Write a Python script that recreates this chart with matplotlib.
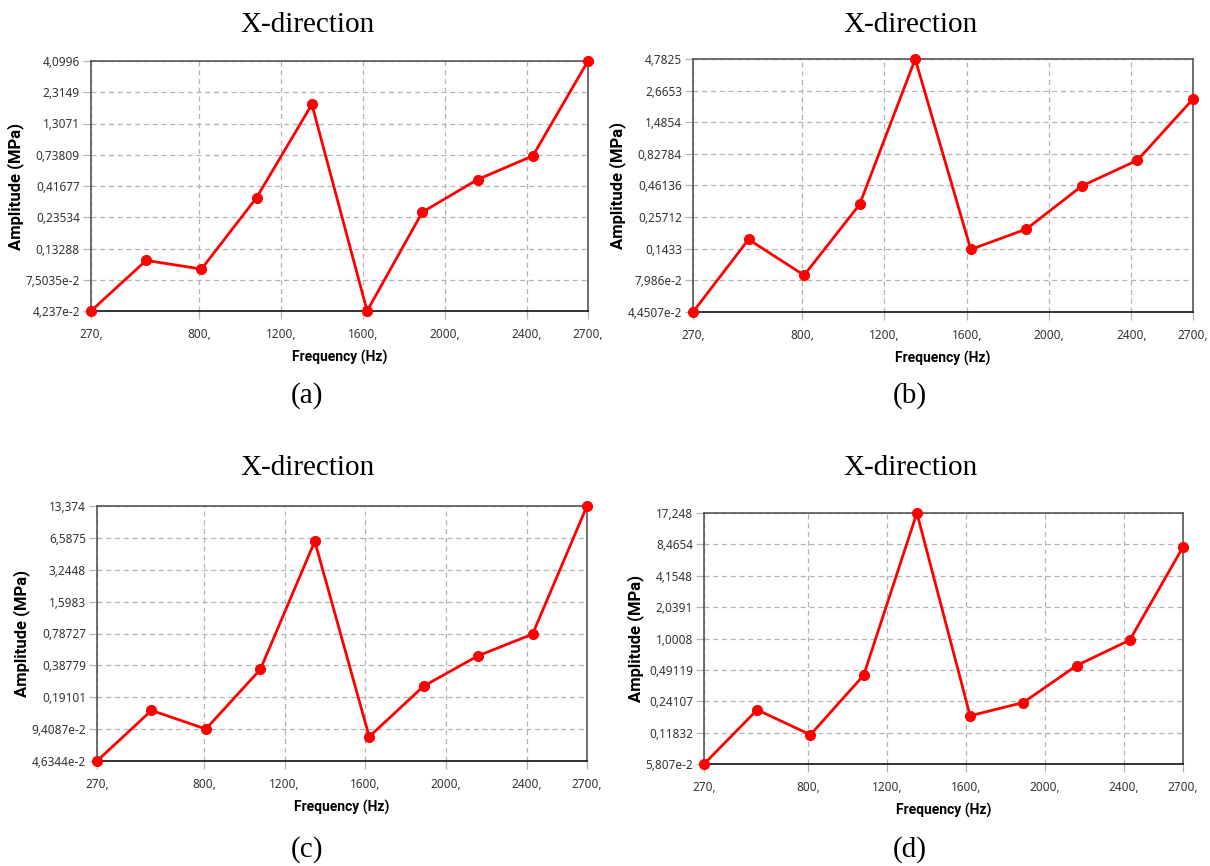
import numpy as np
import matplotlib
matplotlib.use('Agg')
import matplotlib.pyplot as plt
from matplotlib.ticker import FixedLocator, NullLocator

# frequency steps (Hz)
freq = [270, 540, 810, 1080, 1350, 1620, 1890, 2160, 2430, 2700]
xticks = [270, 800, 1200, 1600, 2000, 2400, 2700]
xlabels = ['270,', '800,', '1200,', '1600,', '2000,', '2400,', '2700,']

# amplitude (MPa)
amp_a = [0.04237, 0.1069, 0.0912, 0.3375, 1.855, 0.0424, 0.2583, 0.469, 0.7224, 4.0996]
amp_b = [0.044507, 0.1702, 0.0878, 0.3256, 4.7825, 0.1414, 0.2062, 0.4574, 0.736, 2.281]
amp_c = [0.046344, 0.1426, 0.0943, 0.3542, 6.107, 0.0795, 0.2447, 0.4797, 0.776, 13.374]
amp_d = [0.05807, 0.1985, 0.1127, 0.4347, 17.248, 0.1733, 0.2343, 0.541, 0.966, 7.98]

ylab_a = ['4,237e-2', '7,5035e-2', '0,13288', '0,23534', '0,41677', '0,73809', '1,3071', '2,3149', '4,0996']
ylab_b = ['4,4507e-2', '7,986e-2', '0,1433', '0,25712', '0,46136', '0,82784', '1,4854', '2,6653', '4,7825']
ylab_c = ['4,6344e-2', '9,4087e-2', '0,19101', '0,38779', '0,78727', '1,5983', '3,2448', '6,5875', '13,374']
ylab_d = ['5,807e-2', '0,11832', '0,24107', '0,49119', '1,0008', '2,0391', '4,1548', '8,4654', '17,248']

W, H = 1210, 866
fig = plt.figure(figsize=(W / 100, H / 100), dpi=100)

# axes boxes in pixels: left, top, right, bottom
boxes = [(91, 61, 588, 311), (693, 59, 1193, 312), (97, 506, 587, 761), (704, 513, 1183, 764)]
amps = [amp_a, amp_b, amp_c, amp_d]
ylabs = [ylab_a, ylab_b, ylab_c, ylab_d]
captions = ['(a)', '(b)', '(c)', '(d)']
centers = [(307, 25, 396), (910, 25, 396), (307, 468, 850), (910, 468, 850)]

for box, amp, ylab, cap, cen in zip(boxes, amps, ylabs, captions, centers):
    l, t, r, b = box
    ax = fig.add_axes([l / W, 1 - b / H, (r - l) / W, (b - t) / H])
    ymin, ymax = min(amp), max(amp)
    ax.set_yscale('log')
    ax.plot(freq, amp, color='#ff0000', lw=2, marker='o', ms=7, clip_on=False, zorder=3)
    ax.set_xlim(270, 2700)
    ax.set_ylim(ymin, ymax)
    yt = np.geomspace(ymin, ymax, 9)
    ax.yaxis.set_major_locator(FixedLocator(yt))
    ax.yaxis.set_minor_locator(NullLocator())
    ax.set_yticklabels(ylab)
    ax.set_xticks(xticks)
    ax.set_xticklabels(xlabels)
    ax.grid(True, ls=(0, (4, 3)), color='#b4b4b4', lw=0.9)
    ax.tick_params(axis='both', length=6, width=0.9, color='#b4b4b4', labelsize=8.5,
                   labelcolor='#333333')
    ax.tick_params(axis='x', pad=6)
    ax.tick_params(axis='y', pad=2)
    for s in ax.spines.values():
        s.set_color('#555555')
        s.set_linewidth(1.2)
    ax.spines['bottom'].set_color('#111111')
    ax.set_xlabel('Frequency (Hz)', fontsize=10, fontweight='bold', family='Roboto', labelpad=7)
    ax.set_ylabel('Amplitude (MPa)', fontsize=12, fontweight='bold', family='Roboto', labelpad=1)
    for lbl in ax.get_xticklabels() + ax.get_yticklabels():
        lbl.set_family('Noto Sans')
    cx, ty, cy = cen
    fig.text(cx / W, 1 - ty / H, 'X-direction', ha='center', va='center',
             family='Liberation Serif', fontsize=21)
    fig.text(cx / W, 1 - cy / H, cap, ha='center', va='center',
             family='Liberation Serif', fontsize=21)

fig.savefig('out.png', dpi=100, facecolor='white')
